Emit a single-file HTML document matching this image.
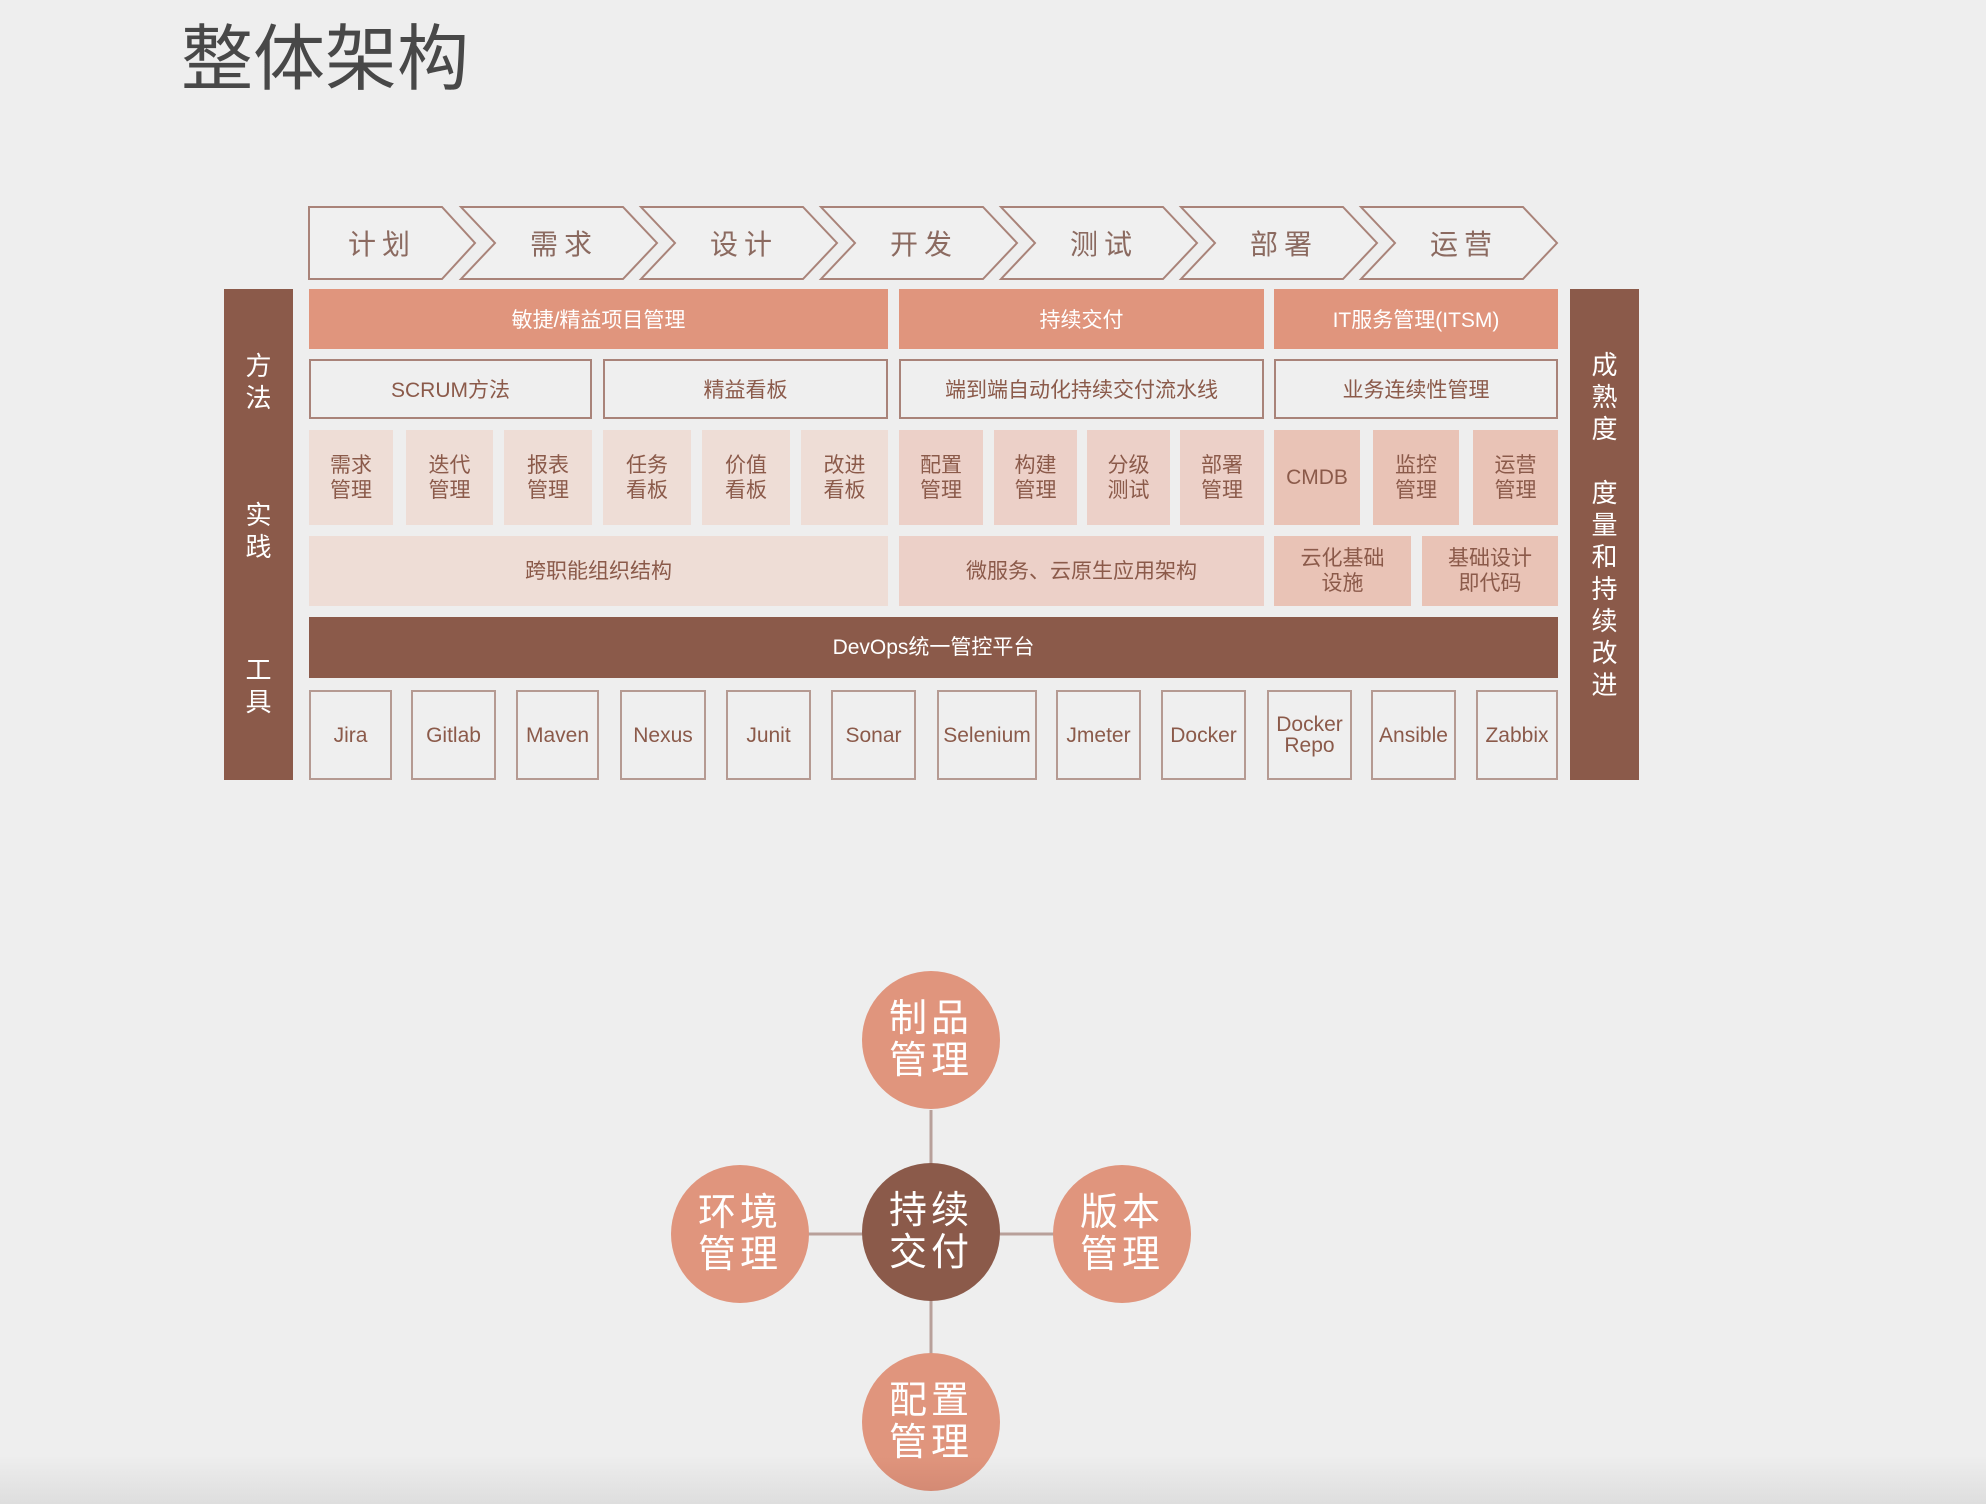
<!DOCTYPE html>
<html><head><meta charset="utf-8"><style>
body{margin:0;width:1986px;height:1504px;background:#eeeeee;position:relative;overflow:hidden;font-family:"Liberation Sans","Noto Sans CJK SC",sans-serif;}
.a{position:absolute;box-sizing:border-box;display:flex;align-items:center;justify-content:center;text-align:center;}
.o{background:#e0957d;color:#fff;font-size:21px;}
.w{border:2px solid #a98379;background:#efefef;color:#8b5a4a;font-size:21px;}
.s{color:#8b5a4a;font-size:21px;line-height:25px;}
.l1{background:#eeddd6}.l2{background:#ecd0c8}.l3{background:#e9c3b6}
.t{border:2px solid #b59a92;background:#efefef;color:#8b5a4a;font-size:21px;line-height:21px;}
.bar{background:#8b5a4a;color:#fff;font-size:26px;line-height:32px;}
.c{border-radius:50%;color:#fff;font-size:38px;line-height:42px;letter-spacing:4px;background:#e0957d;}
</style></head><body>
<div style="position:absolute;left:181px;top:0px;font-size:72px;color:#484848;font-family:'Noto Sans CJK SC',sans-serif;">整体架构</div>
<svg width="1986" height="1504" style="position:absolute;left:0;top:0">
<g fill="#f0f0f0" stroke="#a98379" stroke-width="2">
<polygon points="309,207 442,207 475,243 442,279 309,279"/>
<polygon points="461,207 623,207 657,243 623,279 461,279 495,243"/>
<polygon points="641,207 803,207 837,243 803,279 641,279 675,243"/>
<polygon points="821,207 983,207 1017,243 983,279 821,279 855,243"/>
<polygon points="1001,207 1163,207 1197,243 1163,279 1001,279 1035,243"/>
<polygon points="1181,207 1343,207 1377,243 1343,279 1181,279 1215,243"/>
<polygon points="1361,207 1523,207 1557,243 1523,279 1361,279 1395,243"/>
</g>
<g fill="#8b6a60" font-size="28" text-anchor="middle" font-family="Noto Sans CJK SC,sans-serif" letter-spacing="6">
<text x="382" y="254">计划</text><text x="564" y="254">需求</text><text x="744" y="254">设计</text><text x="924" y="254">开发</text><text x="1104" y="254">测试</text><text x="1284" y="254">部署</text><text x="1464" y="254">运营</text>
</g>
<g stroke="#b8a09a" stroke-width="3">
<line x1="931" y1="1110" x2="931" y2="1165"/><line x1="931" y1="1300" x2="931" y2="1355"/>
<line x1="808" y1="1234" x2="864" y2="1234"/><line x1="998" y1="1234" x2="1054" y2="1234"/>
</g>
</svg>
<div class="a bar" style="left:224px;top:289px;width:69px;height:491px;"></div>
<div class="a bar" style="left:224px;top:348px;width:69px;height:68px;">方<br>法</div>
<div class="a bar" style="left:224px;top:497px;width:69px;height:68px;">实<br>践</div>
<div class="a bar" style="left:224px;top:652px;width:69px;height:68px;">工<br>具</div>
<div class="a bar" style="left:1570px;top:289px;width:69px;height:491px;flex-direction:column;justify-content:flex-start;padding-top:60px;">成<br>熟<br>度<br><br>度<br>量<br>和<br>持<br>续<br>改<br>进</div>

<div class="a o" style="left:309px;top:289px;width:579px;height:60px;">敏捷/精益项目管理</div>
<div class="a o" style="left:899px;top:289px;width:365px;height:60px;">持续交付</div>
<div class="a o" style="left:1274px;top:289px;width:284px;height:60px;">IT服务管理(ITSM)</div>

<div class="a w" style="left:309px;top:359px;width:283px;height:60px;">SCRUM方法</div>
<div class="a w" style="left:603px;top:359px;width:285px;height:60px;">精益看板</div>
<div class="a w" style="left:899px;top:359px;width:365px;height:60px;">端到端自动化持续交付流水线</div>
<div class="a w" style="left:1274px;top:359px;width:284px;height:60px;">业务连续性管理</div>

<div class="a s l1" style="left:309px;top:430px;width:84px;height:95px;">需求<br>管理</div>
<div class="a s l1" style="left:406px;top:430px;width:87px;height:95px;">迭代<br>管理</div>
<div class="a s l1" style="left:504px;top:430px;width:88px;height:95px;">报表<br>管理</div>
<div class="a s l1" style="left:603px;top:430px;width:88px;height:95px;">任务<br>看板</div>
<div class="a s l1" style="left:702px;top:430px;width:88px;height:95px;">价值<br>看板</div>
<div class="a s l1" style="left:801px;top:430px;width:87px;height:95px;">改进<br>看板</div>
<div class="a s l2" style="left:899px;top:430px;width:84px;height:95px;">配置<br>管理</div>
<div class="a s l2" style="left:994px;top:430px;width:83px;height:95px;">构建<br>管理</div>
<div class="a s l2" style="left:1087px;top:430px;width:83px;height:95px;">分级<br>测试</div>
<div class="a s l2" style="left:1180px;top:430px;width:84px;height:95px;">部署<br>管理</div>
<div class="a s l3" style="left:1274px;top:430px;width:86px;height:95px;">CMDB</div>
<div class="a s l3" style="left:1373px;top:430px;width:86px;height:95px;">监控<br>管理</div>
<div class="a s l3" style="left:1473px;top:430px;width:85px;height:95px;">运营<br>管理</div>

<div class="a s l1" style="left:309px;top:536px;width:579px;height:70px;">跨职能组织结构</div>
<div class="a s l2" style="left:899px;top:536px;width:365px;height:70px;">微服务、云原生应用架构</div>
<div class="a s l3" style="left:1274px;top:536px;width:137px;height:70px;">云化基础<br>设施</div>
<div class="a s l3" style="left:1422px;top:536px;width:136px;height:70px;">基础设计<br>即代码</div>

<div class="a bar" style="left:309px;top:617px;width:1249px;height:61px;font-size:21px;">DevOps统一管控平台</div>

<div class="a t" style="left:309px;top:690px;width:83px;height:90px;">Jira</div>
<div class="a t" style="left:411px;top:690px;width:85px;height:90px;">Gitlab</div>
<div class="a t" style="left:516px;top:690px;width:83px;height:90px;">Maven</div>
<div class="a t" style="left:620px;top:690px;width:86px;height:90px;">Nexus</div>
<div class="a t" style="left:726px;top:690px;width:85px;height:90px;">Junit</div>
<div class="a t" style="left:831px;top:690px;width:85px;height:90px;">Sonar</div>
<div class="a t" style="left:937px;top:690px;width:100px;height:90px;">Selenium</div>
<div class="a t" style="left:1056px;top:690px;width:85px;height:90px;">Jmeter</div>
<div class="a t" style="left:1161px;top:690px;width:85px;height:90px;">Docker</div>
<div class="a t" style="left:1267px;top:690px;width:85px;height:90px;">Docker<br>Repo</div>
<div class="a t" style="left:1371px;top:690px;width:85px;height:90px;">Ansible</div>
<div class="a t" style="left:1476px;top:690px;width:82px;height:90px;">Zabbix</div>

<div style="position:absolute;left:0;top:1455px;width:1986px;height:49px;background:linear-gradient(#eeeeee,#dedede);"></div>

<div class="a c" style="left:862px;top:971px;width:138px;height:138px;">制品<br>管理</div>
<div class="a c" style="left:862px;top:1163px;width:138px;height:138px;background:#8b5a4a;">持续<br>交付</div>
<div class="a c" style="left:671px;top:1165px;width:138px;height:138px;">环境<br>管理</div>
<div class="a c" style="left:1053px;top:1165px;width:138px;height:138px;">版本<br>管理</div>
<div class="a c" style="left:862px;top:1353px;width:138px;height:138px;background:linear-gradient(#e0957d 75%,#d48a74);">配置<br>管理</div>
</body></html>
